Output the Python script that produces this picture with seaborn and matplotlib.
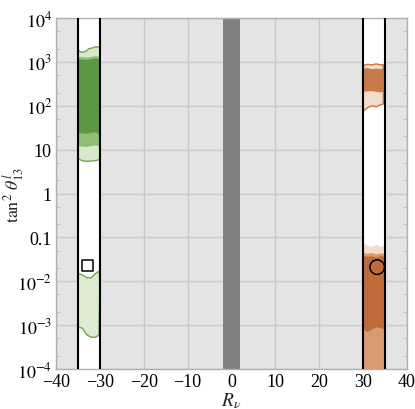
import numpy as np
import pandas as pd
import matplotlib
matplotlib.use("Agg")
import matplotlib.pyplot as plt
import seaborn as sns
from matplotlib.ticker import FixedLocator, FixedFormatter, LogLocator, NullFormatter

# ---- data ----
allowed_bands = [(-35, -30), (30, 35)]          # white regions bounded by black lines
excluded_band = (-2, 2)                          # dark gray band

# green (R_nu < 0) regions: (x, y) polygon vertices per layer
green_upper_outer_x = [-35, -34.5, -34, -33.5, -33, -32.5, -32, -31, -30, -30, -31, -32, -33, -34, -35]
green_upper_outer_y = [1900, 1700, 1650, 1700, 1800, 2000, 2050, 2200, 2200, 6.0, 5.6, 5.5, 5.4, 5.6, 6.2]
green_upper_mid_x = [-35, -33, -31, -30, -30, -31, -33, -35]
green_upper_mid_y = [1300, 1250, 1350, 1300, 12, 12.5, 11.5, 12]
green_upper_core_x = [-35, -33, -31, -30, -30, -31, -33, -35]
green_upper_core_y = [1150, 1100, 1200, 1150, 22, 25, 23, 24]
green_lower_x = [-35, -34, -33, -32, -31, -30.2, -30, -30.2, -31, -32, -33, -34, -35]
green_lower_y = [0.015, 0.014, 0.012, 0.012, 0.015, 0.017, 0.01, 0.0006, 0.00053, 0.00053, 0.0006, 0.00085, 0.0009]

# orange (R_nu > 0) regions
orange_upper_outer_x = [30, 31, 32, 33, 34, 34.6, 34.6, 34, 33, 32, 31, 30]
orange_upper_outer_y = [820, 880, 850, 900, 850, 870, 110, 105, 95, 100, 90, 75]
orange_upper_core_x = [30, 31, 32, 33, 34, 34.6, 34.6, 34, 32, 30]
orange_upper_core_y = [700, 720, 680, 700, 690, 700, 210, 200, 215, 210]
orange_lower_outer_x = [30, 31, 32, 33, 34, 35, 35, 30]
orange_lower_outer_y = [0.075, 0.065, 0.06, 0.068, 0.06, 0.065, 0.0001, 0.0001]
orange_lower_mid_x = [30, 31, 32, 33, 34, 35, 35, 30]
orange_lower_mid_y = [0.045, 0.042, 0.044, 0.041, 0.043, 0.042, 0.0001, 0.0001]
orange_lower_core_x = [30, 31, 32, 33, 34, 35, 35, 33, 31, 30]
orange_lower_core_y = [0.038, 0.036, 0.037, 0.035, 0.037, 0.036, 0.0008, 0.0009, 0.0007, 0.0008]

best_fit_neg = (-32.8, 0.023)   # square
best_fit_pos = (33.2, 0.021)    # circle

x_ticks = [-40, -30, -20, -10, 0, 10, 20, 30, 40]
y_ticks = [1e-4, 1e-3, 1e-2, 0.1, 1, 10, 1e2, 1e3, 1e4]
y_ticklabels = [r"$10^{-4}$", r"$10^{-3}$", r"$10^{-2}$", "0.1", "1", "10",
                r"$10^{2}$", r"$10^{3}$", r"$10^{4}$"]

# ---- styling ----
sns.set_style("ticks")
plt.rcParams["font.family"] = ["Liberation Serif", "DejaVu Serif"]
plt.rcParams["mathtext.fontset"] = "stix"

fig = plt.figure(figsize=(4.15, 4.10), dpi=100)
ax = fig.add_axes([56/415, 40/410, 351/415, 351/410])
ax.set_facecolor("#e4e4e4")
ax.set_xlim(-40, 40)
ax.set_yscale("log")
ax.set_ylim(1e-4, 1e4)

# grid
ax.set_axisbelow(True)
ax.grid(True, which="major", color="#c9c9c9", lw=1.0)

# white allowed bands and black borders
for (a, b) in allowed_bands:
    ax.axvspan(a, b, color="white", zorder=1)
    ax.axvline(a, color="black", lw=1.5, zorder=5)
    ax.axvline(b, color="black", lw=1.5, zorder=5)
ax.axvspan(*excluded_band, color="#808080", zorder=2, lw=0)

def blob(xs, ys, face, edge=None, lw=1.0, alpha=1.0):
    ax.fill(xs, ys, facecolor=face, edgecolor=edge if edge else "none",
            lw=lw, zorder=3, alpha=alpha)

# green
blob(green_upper_outer_x, green_upper_outer_y, "#d7e9cb", "#6ca850", 1.0)
blob(green_upper_mid_x, green_upper_mid_y, "#8fbd76")
blob(green_upper_core_x, green_upper_core_y, "#5c9843")
blob(green_lower_x, green_lower_y, "#dcebd2", "#6ca850", 1.0)

# orange
blob(orange_upper_outer_x, orange_upper_outer_y, "#f3dccd", "#c9733f", 1.0)
blob(orange_upper_core_x, orange_upper_core_y, "#c77a4a")
blob(orange_lower_outer_x, orange_lower_outer_y, "#f3dccd")
blob(orange_lower_mid_x, orange_lower_mid_y, "#d99b73")
blob(orange_lower_core_x, orange_lower_core_y, "#bf6b39")

# best fit markers
pts = pd.DataFrame({"x": [best_fit_neg[0], best_fit_pos[0]],
                    "y": [best_fit_neg[1], best_fit_pos[1]],
                    "kind": ["neg", "pos"]})
sns.scatterplot(data=pts, x="x", y="y", style="kind", markers={"neg": "s", "pos": "o"},
                s=[70, 110], facecolor="none", edgecolor="black", linewidth=1.1,
                legend=False, ax=ax, zorder=6)

# ticks
ax.xaxis.set_major_locator(FixedLocator(x_ticks))
ax.set_xticklabels([f"{t}" if t >= 0 else f"\u2212{-t}" for t in x_ticks])
ax.yaxis.set_major_locator(FixedLocator(y_ticks))
ax.yaxis.set_major_formatter(FixedFormatter(y_ticklabels))
ax.yaxis.set_minor_locator(LogLocator(base=10, subs=[2, 5]))
ax.yaxis.set_minor_formatter(NullFormatter())
ax.tick_params(axis="both", which="major", direction="in", length=0, labelsize=13,
               labelcolor="black", pad=3)
ax.tick_params(axis="y", which="minor", direction="in", length=3, color="#bbbbbb",
               left=True, right=True)
for s in ax.spines.values():
    s.set_color("#b0b0b0")
    s.set_linewidth(1.0)

ax.set_xlabel(r"$R_\nu$", fontsize=14, labelpad=0)
ax.set_ylabel(r"$\tan^2\,\theta_{13}^{l}$", fontsize=13)
ax.yaxis.set_label_coords(-0.082, 0.5)

fig.savefig("out.png", dpi=100)
